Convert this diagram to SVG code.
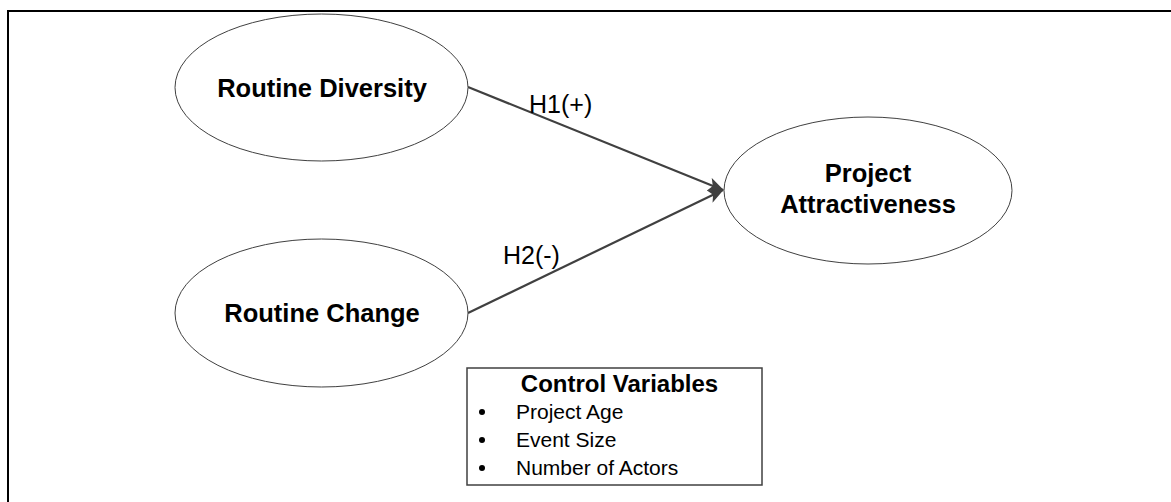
<svg xmlns="http://www.w3.org/2000/svg" width="1171" height="502" viewBox="0 0 1171 502">
<style>
.node{fill:#fff;stroke:#404040;stroke-width:1}
.lbl{font-family:"Liberation Sans",Arial,sans-serif;font-weight:bold;font-size:25.5px;fill:#000;text-anchor:middle}
.hyp{font-family:"Liberation Sans",Arial,sans-serif;font-size:25px;fill:#000}
.item{font-family:"Liberation Sans",Arial,sans-serif;font-size:21px;fill:#000}
.edge{stroke:#404040;stroke-width:2.2;fill:none;marker-end:url(#arr)}
</style>
<defs>
<marker id="arr" markerWidth="16" markerHeight="14" refX="15" refY="7" orient="auto" markerUnits="userSpaceOnUse">
<path d="M0,0 L16,7 L0,14 L4,7 Z" fill="#404040"/>
</marker>
</defs>
<rect width="1171" height="502" fill="#fff"/>
<path d="M8,502 V11 H1171" fill="none" stroke="#000" stroke-width="2"/>
<g id="connectors">
<line class="edge" x1="468" y1="87" x2="723" y2="190"/>
<line class="edge" x1="468" y1="313" x2="723" y2="190"/>
<text class="hyp" x="529" y="113">H1(+)</text>
<text class="hyp" x="503" y="264">H2(-)</text>
</g>
<g id="routine-diversity">
<ellipse class="node" cx="321.5" cy="87.5" rx="146.5" ry="73.5"/>
<text class="lbl" x="322" y="97">Routine Diversity</text>
</g>
<g id="routine-change">
<ellipse class="node" cx="321.5" cy="313" rx="146.5" ry="74"/>
<text class="lbl" x="322" y="322">Routine Change</text>
</g>
<g id="project-attractiveness">
<ellipse class="node" cx="868" cy="190.5" rx="144" ry="73.5"/>
<text class="lbl" x="868" y="182">Project</text>
<text class="lbl" x="868" y="213">Attractiveness</text>
</g>
<g id="control-variables">
<rect x="467" y="368" width="295" height="117" fill="#fff" stroke="#404040" stroke-width="1.5"/>
<text class="lbl" x="619.5" y="392" style="font-size:24px">Control Variables</text>
<circle cx="482" cy="412" r="3" fill="#000"/>
<circle cx="482" cy="440" r="3" fill="#000"/>
<circle cx="482" cy="468" r="3" fill="#000"/>
<text class="item" x="516" y="419">Project Age</text>
<text class="item" x="516" y="447">Event Size</text>
<text class="item" x="516" y="475">Number of Actors</text>
</g>
</svg>
